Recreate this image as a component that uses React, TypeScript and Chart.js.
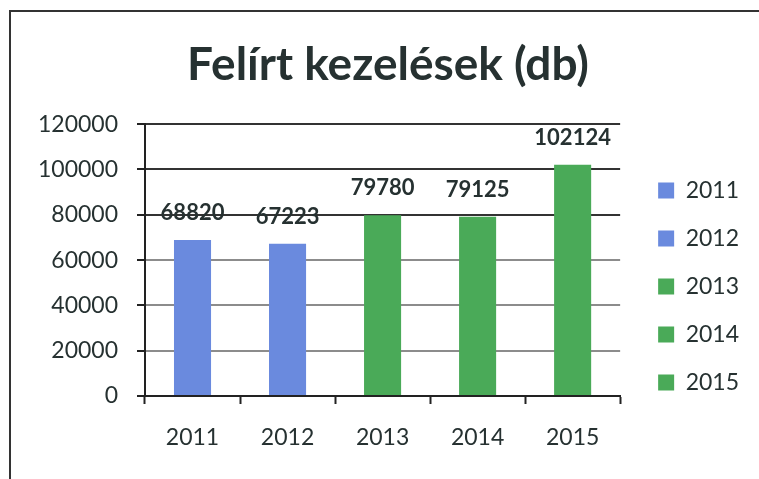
import React, { useEffect, useRef } from "react";
import { Chart, registerables } from "chart.js";

Chart.register(...registerables);

const TITLE = "Felírt kezelések (db)";
const categories = ["2011", "2012", "2013", "2014", "2015"];
const values = [68820, 67223, 79780, 79125, 102124];
const barColors = ["#6a8ade", "#6a8ade", "#4aaa58", "#4aaa58", "#4aaa58"];
const yTicks = [0, 20000, 40000, 60000, 80000, 100000, 120000];

const FONT = "Lato, 'Noto Sans', sans-serif";
const TEXT = "#263131";

const dataLabels = {
  id: "dataLabels",
  afterDatasetsDraw(chart: any) {
    const ctx = chart.ctx;
    const meta = chart.getDatasetMeta(0);
    ctx.save();
    ctx.font = `bold 22px ${FONT}`;
    ctx.fillStyle = TEXT;
    ctx.textAlign = "center";
    ctx.textBaseline = "middle";
    meta.data.forEach((bar: any, i: number) => {
      ctx.fillText(String(values[i]), bar.x, bar.y - 27);
    });
    ctx.restore();
  },
};

export default function App() {
  const ref = useRef<HTMLCanvasElement>(null);
  useEffect(() => {
    if (!ref.current) return;
    const chart = new Chart(ref.current, {
      type: "bar",
      data: {
        labels: categories,
        datasets: [
          {
            label: "Felírt kezelések",
            data: values,
            backgroundColor: barColors,
            borderWidth: 0,
            barPercentage: 0.39,
            categoryPercentage: 1,
          },
        ],
      },
      options: {
        animation: false,
        responsive: false,
        layout: { padding: { left: 27, right: 10, top: 0, bottom: 0 } },
        plugins: {
          tooltip: { enabled: false },
          title: {
            display: true,
            text: TITLE,
            color: TEXT,
            font: { family: FONT, size: 46, weight: "bold", lineHeight: 1.2 },
            padding: { top: 38, bottom: 31 },
          },
          legend: {
            position: "right",
            align: "center",
            title: {
              display: true,
              text: " ",
              font: { family: FONT, size: 10, lineHeight: 1 },
              padding: { top: 42, bottom: 42 },
            },
            labels: {
              font: { family: FONT, size: 23 },
              color: TEXT,
              boxWidth: 16,
              boxHeight: 16,
              padding: 25,
              generateLabels: () =>
                categories.map((c, i) => ({
                  text: c,
                  fillStyle: barColors[i],
                  strokeStyle: barColors[i],
                  lineWidth: 0,
                  fontColor: TEXT,
                  hidden: false,
                  index: i,
                  datasetIndex: 0,
                })),
            },
          },
        },
        scales: {
          x: {
            grid: {
              display: true,
              drawOnChartArea: false,
              drawTicks: true,
              tickLength: 8,
              tickColor: "#222",
              tickWidth: 2,
              offset: true,
            },
            border: { display: true, color: "#222", width: 2 },
            ticks: {
              font: { family: FONT, size: 23 },
              color: TEXT,
              padding: 20,
            },
            afterFit(scale: any) {
              scale.height = 83;
            },
          },
          y: {
            min: 0,
            max: 120000,
            afterBuildTicks(scale: any) {
              scale.ticks = yTicks.map((v) => ({ value: v }));
            },
            grid: {
              color: (c: any) => (c.tick && c.tick.value >= 80000 ? "#333" : "#8c8c8c"),
              lineWidth: 2,
              tickLength: 8,
              tickColor: "#222",
              tickWidth: 2,
            },
            border: { display: true, color: "#222", width: 2 },
            ticks: {
              font: { family: FONT, size: 23 },
              color: TEXT,
              padding: 19,
              callback: (v: any) => String(v),
            },
            afterFit(scale: any) {
              scale.width = 118;
            },
          },
          yR: {
            position: "right",
            display: true,
            grid: { display: false, drawTicks: false },
            border: { display: false },
            ticks: { display: false },
            afterFit(scale: any) {
              scale.width = 13;
            },
          },
        },
      },
      plugins: [dataLabels],
    } as any);
    return () => chart.destroy();
  }, []);

  return (
    <div style={{ position: "absolute", left: 0, top: 0, width: 759, height: 479, background: "#fff" }}>
      <canvas ref={ref} width={759} height={479} style={{ position: "absolute", left: 0, top: 0 }} />
      <div
        style={{
          position: "absolute",
          left: 9,
          top: 10,
          width: 750,
          height: 469,
          borderTop: "2px solid #333",
          borderLeft: "2px solid #333",
          boxSizing: "border-box",
          pointerEvents: "none",
        }}
      />
    </div>
  );
}
